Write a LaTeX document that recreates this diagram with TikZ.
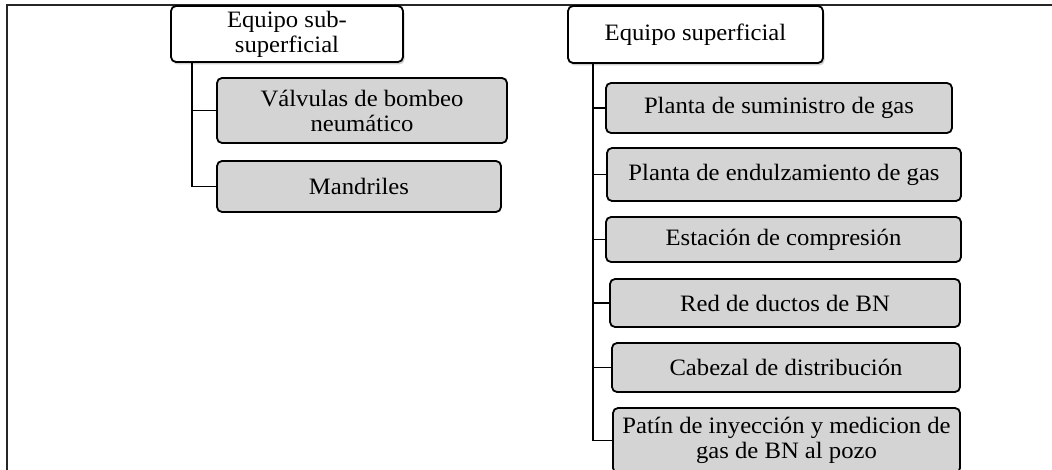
\documentclass[tikz,border=0pt]{standalone}
\usepackage{fontspec}
\setmainfont{Liberation Serif}[FakeStretch=1.05]
\usetikzlibrary{shadows}
\tikzset{
  basebox/.style={draw=black, line width=1.8pt, rounded corners=5pt, align=center,
    inner sep=0pt, font=\fontsize{23.5}{25}\selectfont},
  parentbox/.style={basebox, fill=white,
    drop shadow={shadow xshift=1.5pt, shadow yshift=-2.5pt, opacity=0.3, fill=black!60}},
  childbox/.style={basebox, fill=black!17},
  link/.style={draw=black, line width=1.8pt},
  frameline/.style={draw=black!85, line width=2pt}
}
\begin{document}
\begin{tikzpicture}[x=1pt,y=-1pt]
\useasboundingbox (0,0) rectangle (1052,470);
\clip (0,0) rectangle (1052,470);
\fill[white] (0,0) rectangle (1052,470);
\draw[frameline] (7,470) -- (7,5) -- (1052,5);

% left group
\node[parentbox, minimum width=232pt, minimum height=56pt] (subp) at (287,34) {Equipo sub-\\superficial};
\node[childbox, minimum width=290pt, minimum height=65pt] (val) at (362,110.5) {Válvulas de bombeo\\neumático};
\node[childbox, minimum width=284pt, minimum height=51pt] (man) at (359,186.5) {Mandriles};

% right group
\node[parentbox, minimum width=255pt, minimum height=57pt] (sup) at (695.5,34.5) {Equipo superficial};
\node[childbox, minimum width=346pt, minimum height=50pt] (p1) at (779,108) {Planta de suministro de gas};
\node[childbox, minimum width=354pt, minimum height=53pt] (p2) at (784,174.5) {Planta de endulzamiento de gas};
\node[childbox, minimum width=355pt, minimum height=45pt] (p3) at (783.5,239.5) {Estación de compresión};
\node[childbox, minimum width=350pt, minimum height=48pt] (p4) at (785,303) {Red de ductos de BN};
\node[childbox, minimum width=348pt, minimum height=49pt] (p5) at (786,367.5) {Cabezal de distribución};
\node[childbox, minimum width=347pt, minimum height=65pt] (p6) at (786.5,440.5) {Patín de inyección y medicion de\\gas de BN al pozo};

% connectors
\draw[link] ([xshift=22pt]subp.south west) |- (val.west);
\draw[link] ([xshift=22pt]subp.south west) |- (man.west);
\foreach \n in {p1,p2,p3,p4,p5,p6}
  \draw[link] ([xshift=26pt]sup.south west) |- (\n.west);
\end{tikzpicture}
\end{document}
